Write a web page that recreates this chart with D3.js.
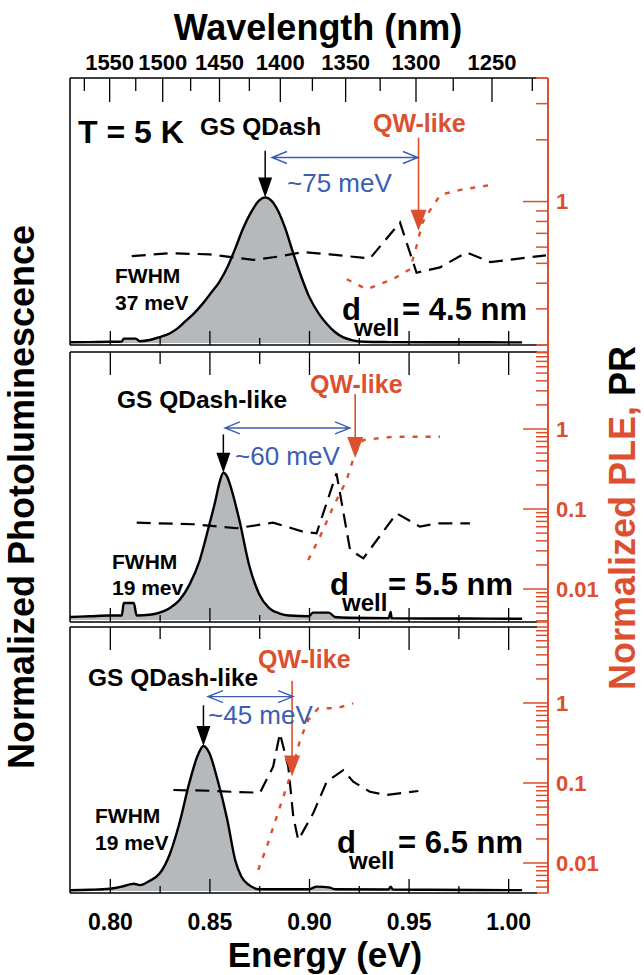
<!DOCTYPE html>
<html><head><meta charset="utf-8">
<script src="https://cdn.jsdelivr.net/npm/d3@7"></script>
<style>body{margin:0;background:#fff}svg{display:block}text{font-family:"Liberation Sans",Arial,Helvetica,sans-serif}</style>
</head><body><svg id="c" width="644" height="975"></svg>
<script>
// ---------------- data ----------------
const energyTicks = [0.80, 0.85, 0.90, 0.95, 1.00];
const energyMinorTicks = [0.825, 0.875, 0.925, 0.975];
const wavelengthTicks = [1575,1550,1525,1500,1475,1450,1425,1400,1375,1350,1325,1300,1275,1250,1225];
const wavelengthLabels = [1550,1500,1450,1400,1350,1300,1250];
const rightLabelsTop = [1];
const rightLabels = [1, 0.1, 0.01];

// PL spectra [energy eV, normalized intensity]
const plTop = [[0.780,0.005],[0.790,0.006],[0.800,0.008],[0.806,0.01],[0.807,0.03],[0.813,0.03],[0.815,0.012],[0.820,0.02],[0.825,0.04],[0.830,0.065],[0.834,0.10],[0.838,0.15],[0.842,0.20],[0.846,0.26],[0.850,0.33],[0.855,0.42],[0.859,0.52],[0.863,0.65],[0.867,0.79],[0.871,0.90],[0.875,0.98],[0.878,1.0],[0.881,0.98],[0.884,0.92],[0.888,0.79],[0.892,0.62],[0.896,0.46],[0.900,0.32],[0.905,0.20],[0.909,0.13],[0.913,0.075],[0.917,0.04],[0.922,0.018],[0.928,0.008],[0.940,0.006],[0.960,0.005],[0.980,0.005],[1.000,0.004],[1.007,0.004]];
const plMid = [[0.780,0.02],[0.790,0.025],[0.800,0.03],[0.806,0.03],[0.807,0.115],[0.812,0.115],[0.8135,0.03],[0.820,0.035],[0.825,0.05],[0.830,0.08],[0.835,0.135],[0.840,0.24],[0.845,0.40],[0.850,0.65],[0.853,0.81],[0.855,0.93],[0.857,1.0],[0.859,0.97],[0.861,0.89],[0.865,0.68],[0.870,0.37],[0.875,0.175],[0.880,0.08],[0.885,0.045],[0.890,0.03],[0.900,0.025],[0.902,0.05],[0.910,0.05],[0.913,0.02],[0.920,0.015],[0.940,0.012],[0.941,0.055],[0.9415,0.012],[0.960,0.01],[0.980,0.01],[1.000,0.008],[1.007,0.008]];
const plBot = [[0.780,0.005],[0.790,0.008],[0.800,0.015],[0.806,0.03],[0.810,0.045],[0.812,0.05],[0.815,0.04],[0.820,0.07],[0.825,0.12],[0.830,0.25],[0.835,0.47],[0.840,0.75],[0.844,0.93],[0.847,1.0],[0.850,0.95],[0.854,0.77],[0.859,0.49],[0.863,0.21],[0.866,0.10],[0.870,0.04],[0.875,0.012],[0.880,0.012],[0.900,0.012],[0.904,0.03],[0.910,0.025],[0.913,0.012],[0.940,0.01],[0.941,0.03],[0.942,0.01],[0.960,0.008],[1.000,0.006],[1.007,0.006]];

// PR (dashed) [energy, normalized, log axis]
const prTop = [[0.811,0.542],[0.830,0.56],[0.850,0.553],[0.872,0.52],[0.885,0.54],[0.897,0.567],[0.9105,0.553],[0.9306,0.528],[0.9457,0.79],[0.954,0.45],[0.9658,0.478],[0.979,0.565],[0.991,0.507],[1.019,0.547]];
const prMid = [[0.8135,0.0675],[0.8419,0.0645],[0.8637,0.0575],[0.882,0.0675],[0.8971,0.052],[0.9038,0.0497],[0.9138,0.279],[0.9206,0.0309],[0.9273,0.0242],[0.944,0.0883],[0.9557,0.0603],[0.9641,0.066],[0.9808,0.066]];
const prBot = [[0.8319,0.0818],[0.8503,0.08],[0.862,0.0776],[0.8754,0.0756],[0.882,0.16],[0.8854,0.418],[0.8896,0.16],[0.8921,0.038],[0.8946,0.0194],[0.9021,0.0418],[0.9089,0.104],[0.9172,0.145],[0.9222,0.104],[0.9306,0.0776],[0.939,0.0708],[0.9549,0.0794]];

// PLE (red dotted)
const pleTop = [[0.919,0.418],[0.929,0.374],[0.942,0.418],[0.9507,0.468],[0.954,0.607],[0.957,0.79],[0.961,0.915],[0.966,1.08],[0.976,1.14],[0.9925,1.21]];
const pleMid = [[0.8996,0.023],[0.9055,0.045],[0.9122,0.107],[0.9189,0.23],[0.9231,0.497],[0.9273,0.73],[0.9423,0.80],[0.9658,0.80]];
const pleBot = [[0.8745,0.0082],[0.8788,0.016],[0.8838,0.038],[0.8888,0.09],[0.8921,0.16],[0.8955,0.345],[0.8996,0.613],[0.9047,0.86],[0.9139,0.86],[0.9222,0.99]];

// ---------------- layout ----------------
const RED = "#dc4f2f", BLUE = "#3b5db3", GRAY = "#b5b9bc";
const FONT = '"Liberation Sans",Arial,Helvetica,sans-serif';
const svg = d3.select("#c");
const x = d3.scaleLinear().domain([0.78, 1.02]).range([70, 548]);
const HC = 1239.84;

const panels = [
  {top:78, bottom:345, pl:plTop, pr:prTop, ple:pleTop, logDomain:[0.2,4], labels:rightLabelsTop,
   peakE:0.878, blackFrom:1.32, qwE:0.955, redFrom:1.41, redTo:0.77, blue:[0.8814,0.9547,1.274],
   texts:[
     {t:"T = 5 K", x:78, y:143, s:32, w:"bold"},
     {t:"GS QDash", x:200, y:135, s:24.5, w:"bold"},
     {t:"QW-like", x:373, y:132, s:25, w:"bold", c:RED},
     {t:"~75 meV", x:287, y:192, s:26, w:"normal", c:BLUE},
     {t:"FWHM", x:115, y:283, s:21, w:"bold"},
     {t:"37 meV", x:115, y:310, s:21, w:"bold"}],
   dwell:{x:342, y:320, val:"= 4.5 nm", end:527}},
  {top:352, bottom:622, pl:plMid, pr:prMid, ple:pleMid, logDomain:[0.00387,9.17], labels:rightLabels,
   peakE:0.857, blackFrom:1.26, qwE:0.9232, redFrom:1.534, redTo:1.10, blue:[0.8578,0.9206,1.304],
   texts:[
     {t:"GS QDash-like", x:117, y:408, s:24.5, w:"bold"},
     {t:"QW-like", x:310, y:393, s:25, w:"bold", c:RED},
     {t:"~60 meV", x:235, y:465, s:26, w:"normal", c:BLUE},
     {t:"FWHM", x:112, y:569, s:21, w:"bold"},
     {t:"19 mev", x:112, y:595, s:21, w:"bold"}],
   dwell:{x:330, y:595, val:"= 5.5 nm", end:513}},
  {top:627, bottom:893, pl:plBot, pr:prBot, ple:pleBot, logDomain:[0.00422,8.91], labels:rightLabels,
   peakE:0.847, blackFrom:1.28, qwE:0.8915, redFrom:1.45, redTo:0.79, blue:[0.8493,0.892,1.34],
   texts:[
     {t:"QW-like", x:258, y:668, s:25, w:"bold", c:RED},
     {t:"GS QDash-like", x:88, y:686, s:24.5, w:"bold"},
     {t:"~45 meV", x:208, y:724, s:26, w:"normal", c:BLUE},
     {t:"FWHM", x:95, y:823, s:21, w:"bold"},
     {t:"19 meV", x:95, y:850, s:21, w:"bold"}],
   dwell:{x:337, y:853, val:"= 6.5 nm", end:523}}
];

panels.forEach((p, i) => {
  const g = svg.append("g");
  const yPL = d3.scaleLinear().domain([-0.014, 1.82]).range([p.bottom, p.top]);
  const yLog = d3.scaleLog().domain(p.logDomain).range([p.bottom, p.top]);

  const area = d3.area().curve(d3.curveMonotoneX).x(d => x(d[0])).y0(yPL(0)).y1(d => yPL(d[1]));
  g.append("path").datum(p.pl).attr("d", area).attr("fill", GRAY);

  const lineLog = d3.line().x(d => x(d[0])).y(d => yLog(d[1]));
  g.append("path").datum(p.pr).attr("d", lineLog).attr("fill","none").attr("stroke","#000")
    .attr("stroke-width",2.2).attr("stroke-dasharray","14,8");
  g.append("path").datum(p.ple).attr("d", lineLog).attr("fill","none").attr("stroke",RED)
    .attr("stroke-width",2.4).attr("stroke-dasharray","5,8");

  const line = d3.line().curve(d3.curveMonotoneX).x(d => x(d[0])).y(d => yPL(d[1]));
  g.append("path").datum(p.pl).attr("d", line).attr("fill","none").attr("stroke","#000").attr("stroke-width",2.4);

  g.append("line").attr("x1",70).attr("x2",70).attr("y1",p.top).attr("y2",p.bottom).attr("stroke","#000").attr("stroke-width",1.5);
  [p.top, p.bottom].forEach(yy => {
    g.append("line").attr("x1",70).attr("x2",537).attr("y1",yy).attr("y2",yy).attr("stroke","#000").attr("stroke-width",1.5);
    g.append("line").attr("x1",537).attr("x2",548).attr("y1",yy).attr("y2",yy).attr("stroke",RED).attr("stroke-width",1.5);
  });

  g.append("g").attr("transform",`translate(0,${p.bottom})`)
    .call(d3.axisBottom(x).tickValues(energyTicks).tickSizeInner(-14).tickSizeOuter(0).tickFormat(""))
    .call(a => a.select(".domain").remove()).selectAll("line").attr("stroke-width",1.3);
  g.append("g").attr("transform",`translate(0,${p.bottom})`)
    .call(d3.axisBottom(x).tickValues(energyMinorTicks).tickSizeInner(-7).tickSizeOuter(0).tickFormat(""))
    .call(a => a.select(".domain").remove()).selectAll("line").attr("stroke-width",1.3);
  if (i > 0) {
    g.append("g").attr("transform",`translate(0,${p.top})`)
      .call(d3.axisTop(x).tickValues(energyTicks).tickSizeInner(-23).tickSizeOuter(0).tickFormat(""))
      .call(a => a.select(".domain").remove()).selectAll("line").attr("stroke-width",1.3);
    g.append("g").attr("transform",`translate(0,${p.top})`)
      .call(d3.axisTop(x).tickValues(energyMinorTicks).tickSizeInner(-12).tickSizeOuter(0).tickFormat(""))
      .call(a => a.select(".domain").remove()).selectAll("line").attr("stroke-width",1.3);
  }

  const ticks = yLog.ticks().filter(v => v >= p.logDomain[0] && v <= p.logDomain[1]);
  const isMajor = v => Math.abs(Math.log10(v) - Math.round(Math.log10(v))) < 1e-9;
  g.selectAll(null).data(ticks).enter().append("line")
    .attr("x1", v => isMajor(v) ? 523 : 536).attr("x2",548)
    .attr("y1", v => yLog(v)).attr("y2", v => yLog(v))
    .attr("stroke",RED).attr("stroke-width",1.5);
  g.selectAll(null).data(p.labels).enter().append("text")
    .attr("x",556).attr("y", v => yLog(v)).attr("dy","0.36em")
    .attr("fill",RED).attr("font-size",22).attr("font-weight","bold")
    .text(d3.format("~g"));

  const bx = x(p.peakE);
  g.append("line").attr("x1",bx).attr("x2",bx).attr("y1",yPL(p.blackFrom)).attr("y2",yPL(1)-18)
    .attr("stroke","#000").attr("stroke-width",1.5);
  g.append("path").attr("d",`M${bx},${yPL(1)}L${bx-7},${yPL(1)-20}L${bx+7},${yPL(1)-20}Z`).attr("fill","#000");
  const rx = x(p.qwE), rT = yPL(p.redTo);
  g.append("line").attr("x1",rx).attr("x2",rx).attr("y1",yPL(p.redFrom)).attr("y2",rT-18)
    .attr("stroke",RED).attr("stroke-width",1.6);
  g.append("path").attr("d",`M${rx},${rT}L${rx-8},${rT-21}L${rx+8},${rT-21}Z`).attr("fill",RED);
  const x1 = x(p.blue[0]), x2 = x(p.blue[1]), yb = yPL(p.blue[2]);
  g.append("path").attr("d",`M${x1},${yb}H${x2}M${x1+15},${yb-6}L${x1},${yb}L${x1+15},${yb+6}M${x2-15},${yb-6}L${x2},${yb}L${x2-15},${yb+6}`)
    .attr("fill","none").attr("stroke",BLUE).attr("stroke-width",1.4);

  p.texts.forEach(t => {
    g.append("text").attr("x",t.x).attr("y",t.y).attr("font-size",t.s).attr("font-weight",t.w)
      .attr("fill",t.c || "#000").text(t.t);
  });
  const dw = p.dwell;
  const dt = g.append("text").attr("x",dw.x).attr("y",dw.y).attr("font-weight","bold").attr("font-size",31);
  dt.append("tspan").text("d");
  dt.append("tspan").attr("x",dw.x+12).attr("dy",16).attr("font-size",24).text("well");
  const vs = dt.append("tspan").attr("dy",-16).attr("font-size",31).text(dw.val);
  const w = vs.node().getComputedTextLength();
  vs.attr("x", dw.end - w);
});

svg.append("line").attr("x1",548).attr("x2",548).attr("y1",78).attr("y2",893).attr("stroke",RED).attr("stroke-width",2);

const topY = panels[0].top;
svg.selectAll(null).data(wavelengthTicks).enter().append("line")
  .attr("x1", l => x(HC/l)).attr("x2", l => x(HC/l))
  .attr("y1", topY).attr("y2", l => topY + (wavelengthLabels.includes(l) ? 24 : 13))
  .attr("stroke","#000").attr("stroke-width",1.3);
svg.selectAll(null).data(wavelengthLabels).enter().append("text")
  .attr("x", l => x(HC/l)).attr("y",70).attr("text-anchor","middle")
  .attr("font-size",22).attr("font-weight","bold").text(l => l);
svg.append("text").attr("x",318).attr("y",40).attr("text-anchor","middle")
  .attr("font-size",36).attr("font-weight","bold").text("Wavelength (nm)");

svg.append("g").attr("transform",`translate(0,${panels[2].bottom})`)
  .call(d3.axisBottom(x).tickValues(energyTicks).tickSize(0).tickPadding(21).tickFormat(d3.format(".2f")))
  .call(a => a.select(".domain").remove())
  .selectAll("text").attr("font-size",23).attr("font-weight","bold").attr("font-family",FONT).attr("fill","#000");
svg.append("text").attr("x",325).attr("y",967).attr("text-anchor","middle")
  .attr("font-size",35).attr("font-weight","bold").text("Energy (eV)");

svg.append("text").attr("transform","translate(34,497) rotate(-90)").attr("text-anchor","middle")
  .attr("font-size",36).attr("font-weight","bold").text("Normalized Photoluminescence");
const rt = svg.append("text").attr("transform","translate(635,518) rotate(-90)").attr("text-anchor","middle")
  .attr("font-size",36).attr("font-weight","bold");
rt.append("tspan").attr("fill",RED).text("Normalized PLE, ");
rt.append("tspan").attr("fill","#000").text("PR");
</script></body></html>
